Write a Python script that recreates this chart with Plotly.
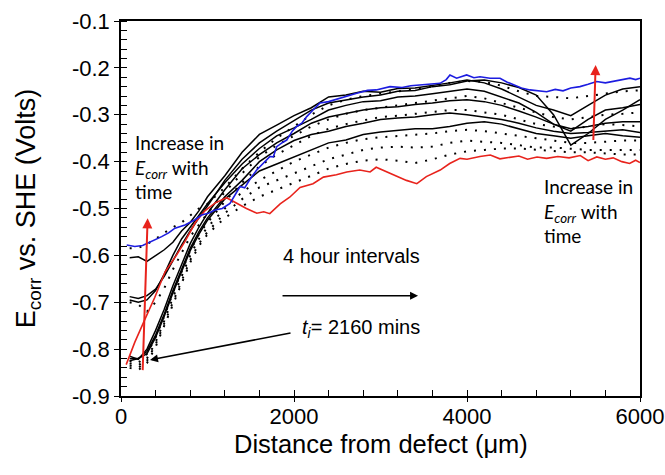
import plotly.graph_objects as go

# ---------------- data ----------------
red_x = [60, 160, 280, 390, 510, 640, 740, 860, 970, 1090, 1220, 1300, 1380, 1450, 1570, 1650, 1720, 1840, 1950,
         2070, 2220, 2340, 2490, 2610, 2760, 2880, 2950, 3110, 3300, 3420, 3530, 3690, 3800, 3920, 4000, 4150,
         4270, 4380, 4500, 4600, 4700, 4810, 4920, 5050, 5180, 5310, 5400, 5500, 5600, 5690, 5790, 5880, 5950, 6000]
red_y = [-0.833, -0.785, -0.735, -0.69, -0.635, -0.60, -0.57, -0.53, -0.505, -0.488, -0.477, -0.485, -0.493, -0.50,
         -0.51, -0.507, -0.511, -0.49, -0.476, -0.455, -0.447, -0.433, -0.428, -0.422, -0.418, -0.422, -0.412,
         -0.425, -0.44, -0.447, -0.432, -0.418, -0.404, -0.393, -0.395, -0.389, -0.386, -0.394, -0.39, -0.388,
         -0.395, -0.39, -0.393, -0.389, -0.392, -0.387, -0.398, -0.39, -0.395, -0.392, -0.40, -0.404, -0.397, -0.402]

blue_x = [66, 160, 250, 312, 400, 470, 550, 624, 740, 855, 932, 1010, 1087, 1170, 1260, 1320, 1376, 1430, 1500,
          1569, 1640, 1723, 1760, 1800, 1860, 1916, 1980, 2031, 2090, 2147, 2220, 2300, 2400, 2500, 2609, 2725,
          2850, 2950, 3110, 3250, 3350, 3491, 3600, 3688, 3760, 3803, 3880, 3950, 3996, 4080, 4150, 4266, 4382,
          4460, 4536, 4628, 4728, 4820, 4921, 5020, 5110, 5200, 5306, 5400, 5499, 5600, 5688, 5780, 5884, 5950, 6000]
blue_y = [-0.578, -0.581, -0.579, -0.574, -0.567, -0.56, -0.552, -0.542, -0.535, -0.524, -0.514, -0.51, -0.503,
          -0.50, -0.489, -0.47, -0.453, -0.456, -0.435, -0.418, -0.405, -0.389, -0.39, -0.368, -0.36, -0.354,
          -0.335, -0.325, -0.318, -0.304, -0.29, -0.275, -0.272, -0.266, -0.261, -0.254, -0.248, -0.247, -0.24,
          -0.242, -0.238, -0.236, -0.235, -0.233, -0.225, -0.215, -0.222, -0.218, -0.215, -0.221, -0.219, -0.222,
          -0.222, -0.23, -0.236, -0.243, -0.247, -0.249, -0.251, -0.246, -0.249, -0.243, -0.24, -0.235, -0.229,
          -0.232, -0.229, -0.226, -0.222, -0.225, -0.222]

grid_x = [100, 200, 300, 400, 500, 600, 700, 800, 900, 1000, 1200, 1400, 1600, 1800, 2000, 2200, 2400, 2600,
          2800, 3000, 3200, 3400, 3600, 3800, 4000, 4200, 4400, 4600, 4800, 5000, 5200, 5400, 5600, 5800, 6000]

solid_s1 = [-0.825, -0.82, -0.81, -0.775, -0.73, -0.68, -0.635, -0.59, -0.555, -0.525, -0.48, -0.45, -0.42, -0.405,
            -0.39, -0.376, -0.36, -0.354, -0.342, -0.337, -0.333, -0.33, -0.33, -0.325, -0.318, -0.315, -0.32,
            -0.33, -0.34, -0.345, -0.35, -0.345, -0.34, -0.345, -0.348]
solid_s2 = [-0.82, -0.82, -0.805, -0.77, -0.725, -0.675, -0.63, -0.585, -0.55, -0.52, -0.475, -0.44, -0.40, -0.375,
            -0.355, -0.342, -0.335, -0.325, -0.318, -0.31, -0.307, -0.305, -0.30, -0.296, -0.30, -0.305, -0.31,
            -0.318, -0.328, -0.335, -0.34, -0.338, -0.335, -0.332, -0.338]
solid_s3 = [-0.815, -0.822, -0.80, -0.76, -0.715, -0.665, -0.62, -0.575, -0.54, -0.51, -0.46, -0.415, -0.385, -0.36,
            -0.34, -0.318, -0.305, -0.297, -0.29, -0.285, -0.283, -0.278, -0.275, -0.27, -0.268, -0.272, -0.28,
            -0.292, -0.305, -0.32, -0.33, -0.325, -0.318, -0.315, -0.315]
solid_s4 = [-0.695, -0.70, -0.695, -0.675, -0.64, -0.60, -0.565, -0.54, -0.515, -0.49, -0.445, -0.405, -0.372,
            -0.345, -0.328, -0.31, -0.29, -0.28, -0.272, -0.27, -0.262, -0.26, -0.255, -0.25, -0.245, -0.25, -0.262,
            -0.275, -0.295, -0.32, -0.335, -0.31, -0.29, -0.285, -0.278]
solid_s5 = [-0.688, -0.692, -0.686, -0.672, -0.645, -0.61, -0.578, -0.548, -0.52, -0.495, -0.44, -0.395, -0.36,
            -0.335, -0.312, -0.29, -0.275, -0.268, -0.262, -0.258, -0.25, -0.248, -0.24, -0.236, -0.228, -0.226,
            -0.232, -0.242, -0.258, -0.30, -0.365, -0.34, -0.31, -0.29, -0.268]
solid_s6 = [-0.605, -0.603, -0.613, -0.60, -0.588, -0.572, -0.548, -0.53, -0.505, -0.475, -0.43, -0.38, -0.342,
            -0.322, -0.302, -0.285, -0.262, -0.258, -0.25, -0.252, -0.244, -0.243, -0.238, -0.232, -0.226, -0.232,
            -0.245, -0.262, -0.28, -0.29, -0.302, -0.28, -0.258, -0.245, -0.24]

dot_d1 = [-0.84, -0.845, -0.83, -0.795, -0.75, -0.705, -0.66, -0.615, -0.58, -0.555, -0.52, -0.495, -0.475, -0.46,
          -0.445, -0.43, -0.415, -0.405, -0.398, -0.395, -0.398, -0.403, -0.395, -0.385, -0.378, -0.375, -0.372,
          -0.372, -0.375, -0.378, -0.38, -0.38, -0.382, -0.385, -0.385]
dot_d2 = [-0.835, -0.84, -0.825, -0.79, -0.745, -0.70, -0.655, -0.61, -0.575, -0.55, -0.51, -0.48, -0.455, -0.44,
          -0.425, -0.41, -0.395, -0.385, -0.375, -0.37, -0.368, -0.37, -0.368, -0.36, -0.355, -0.358, -0.36,
          -0.365, -0.37, -0.37, -0.372, -0.375, -0.375, -0.375, -0.375]
dot_d3 = [-0.83, -0.835, -0.82, -0.785, -0.74, -0.69, -0.645, -0.60, -0.565, -0.54, -0.50, -0.465, -0.44, -0.42,
          -0.40, -0.385, -0.37, -0.36, -0.352, -0.348, -0.345, -0.342, -0.34, -0.335, -0.332, -0.335, -0.34,
          -0.345, -0.35, -0.355, -0.36, -0.36, -0.358, -0.355, -0.355]
dot_d4 = [-0.825, -0.83, -0.81, -0.775, -0.73, -0.68, -0.635, -0.59, -0.555, -0.53, -0.485, -0.445, -0.41, -0.385,
          -0.365, -0.345, -0.33, -0.32, -0.312, -0.305, -0.302, -0.298, -0.295, -0.29, -0.29, -0.295, -0.30, -0.31,
          -0.32, -0.325, -0.33, -0.325, -0.32, -0.322, -0.325]
dot_d5 = [-0.70, -0.705, -0.72, -0.70, -0.67, -0.63, -0.595, -0.56, -0.535, -0.51, -0.465, -0.425, -0.39, -0.365,
          -0.345, -0.325, -0.31, -0.298, -0.29, -0.285, -0.28, -0.275, -0.27, -0.265, -0.26, -0.265, -0.275,
          -0.285, -0.295, -0.305, -0.31, -0.305, -0.30, -0.298, -0.295]
dot_d6 = [-0.585, -0.584, -0.576, -0.565, -0.552, -0.54, -0.53, -0.515, -0.50, -0.49, -0.455, -0.415, -0.38, -0.35,
          -0.325, -0.30, -0.28, -0.268, -0.26, -0.255, -0.25, -0.245, -0.24, -0.232, -0.228, -0.23, -0.238, -0.25,
          -0.26, -0.262, -0.265, -0.26, -0.255, -0.25, -0.248]

solid_series = [solid_s1, solid_s2, solid_s3, solid_s4, solid_s5, solid_s6]
dotted_series = [dot_d1, dot_d2, dot_d3, dot_d4, dot_d5, dot_d6]

x_ticks = [0, 2000, 4000, 6000]
y_ticks = [-0.9, -0.8, -0.7, -0.6, -0.5, -0.4, -0.3, -0.2, -0.1]
y_ticktext = ["-0.9", "-0.8", "-0.7", "-0.6", "-0.5", "-0.4", "-0.3", "-0.2", "-0.1"]

RED = "#E8231C"
BLUE = "#1C1CE0"

fig = go.Figure()
for s in dotted_series:
    fig.add_trace(go.Scatter(x=grid_x, y=s, mode="lines",
                             line=dict(color="black", width=2, dash="2px,8px"), showlegend=False))
for s in solid_series:
    fig.add_trace(go.Scatter(x=grid_x, y=s, mode="lines",
                             line=dict(color="black", width=1.5), showlegend=False))
fig.add_trace(go.Scatter(x=red_x, y=red_y, mode="lines", line=dict(color=RED, width=1.6), showlegend=False))
fig.add_trace(go.Scatter(x=blue_x, y=blue_y, mode="lines", line=dict(color=BLUE, width=1.6), showlegend=False))
# dummy trace for the overlay axes (other half of major ticks)
fig.add_trace(go.Scatter(x=[None], y=[None], xaxis="x2", yaxis="y2", showlegend=False, hoverinfo="skip"))

TICKFONT = dict(family="Liberation Sans, Arial", size=22, color="black")

fig.update_layout(
    width=665, height=475,
    margin=dict(l=121, r=25, t=21, b=79, autoexpand=False),
    paper_bgcolor="white", plot_bgcolor="white",
    xaxis=dict(range=[0, 6000], tickvals=x_ticks, ticktext=[str(v) for v in x_ticks], automargin=False,
               ticks="inside", ticklen=6, tickwidth=1.2, tickcolor="black", ticklabeloverflow="allow",
               minor=dict(dtick=400, tick0=0, ticks="inside", ticklen=6, tickwidth=1.2, tickcolor="black",
                          showgrid=False),
               showline=True, linecolor="black", linewidth=1.5, mirror=True, showgrid=False, zeroline=False,
               tickfont=TICKFONT),
    yaxis=dict(range=[-0.9, -0.1], tickvals=y_ticks, ticktext=y_ticktext, automargin=False,
               ticks="outside", ticklen=5, tickwidth=1.2, tickcolor="black",
               minor=dict(dtick=0.02, tick0=-0.9, ticks="inside", ticklen=6, tickwidth=1.2, tickcolor="black",
                          showgrid=False),
               showline=True, linecolor="black", linewidth=1.5, mirror=True, showgrid=False, zeroline=False,
               tickfont=TICKFONT,
               title=dict(text="E<sub>corr</sub> vs. SHE (Volts)",
                          font=dict(family="Liberation Sans, Arial", size=27, color="black"), standoff=28)),
    xaxis2=dict(overlaying="x", matches="x", anchor="y2", side="bottom", range=[0, 6000], tickvals=x_ticks,
                ticks="outside", ticklen=5, tickwidth=1.2, tickcolor="black", showticklabels=False,
                showline=False, showgrid=False, zeroline=False, automargin=False),
    yaxis2=dict(overlaying="y", matches="y", anchor="x2", side="left", range=[-0.9, -0.1], tickvals=y_ticks,
                ticks="inside", ticklen=6, tickwidth=1.2, tickcolor="black", showticklabels=False,
                showline=False, showgrid=False, zeroline=False, automargin=False),
)

# x-axis title as paper annotation (to place it precisely)
fig.add_annotation(x=0.5, y=-0.128, xref="paper", yref="paper", xanchor="center", yanchor="middle",
                   text="Distance from defect (μm)", showarrow=False,
                   font=dict(family="Liberation Sans, Arial", size=25.5, color="black"))

ANN_FONT = dict(family="Lato, Open Sans", size=19, color="black")
fig.add_annotation(x=139, y=-0.411, xref="x", yref="y", xanchor="left", yanchor="middle", align="left",
                   text="Increase in<br><i>E<sub>corr</sub></i> with<br>time", showarrow=False, font=ANN_FONT)
fig.add_annotation(x=4867, y=-0.505, xref="x", yref="y", xanchor="left", yanchor="middle", align="left",
                   text="Increase in<br><i>E<sub>corr</sub></i> with<br>time", showarrow=False, font=ANN_FONT)
fig.add_annotation(x=2659, y=-0.601, xref="x", yref="y", xanchor="center", yanchor="middle",
                   text="4 hour intervals", showarrow=False,
                   font=dict(family="Liberation Sans, Arial", size=20, color="black"))
fig.add_annotation(x=2069, y=-0.757, xref="x", yref="y", xanchor="left", yanchor="middle",
                   text="<i>t</i><sub><i>i</i></sub>= 2160 mins", showarrow=False,
                   font=dict(family="Liberation Sans, Arial", size=20, color="black"))

# arrows
fig.add_annotation(x=3434, y=-0.686, ax=1850, ay=-0.686, xref="x", yref="y", axref="x", ayref="y",
                   text="", showarrow=True, arrowhead=2, arrowsize=1, arrowwidth=1.6, arrowcolor="black")
fig.add_annotation(x=335, y=-0.823, ax=1977, ay=-0.765, xref="x", yref="y", axref="x", ayref="y",
                   text="", showarrow=True, arrowhead=2, arrowsize=1, arrowwidth=1.6, arrowcolor="black")
fig.add_annotation(x=308, y=-0.521, ax=250, ay=-0.848, xref="x", yref="y", axref="x", ayref="y",
                   text="", showarrow=True, arrowhead=2, arrowsize=1, arrowwidth=2, arrowcolor=RED)
fig.add_annotation(x=5487, y=-0.194, ax=5460, ay=-0.357, xref="x", yref="y", axref="x", ayref="y",
                   text="", showarrow=True, arrowhead=2, arrowsize=1, arrowwidth=2, arrowcolor=RED)

fig.write_html("out.html")
